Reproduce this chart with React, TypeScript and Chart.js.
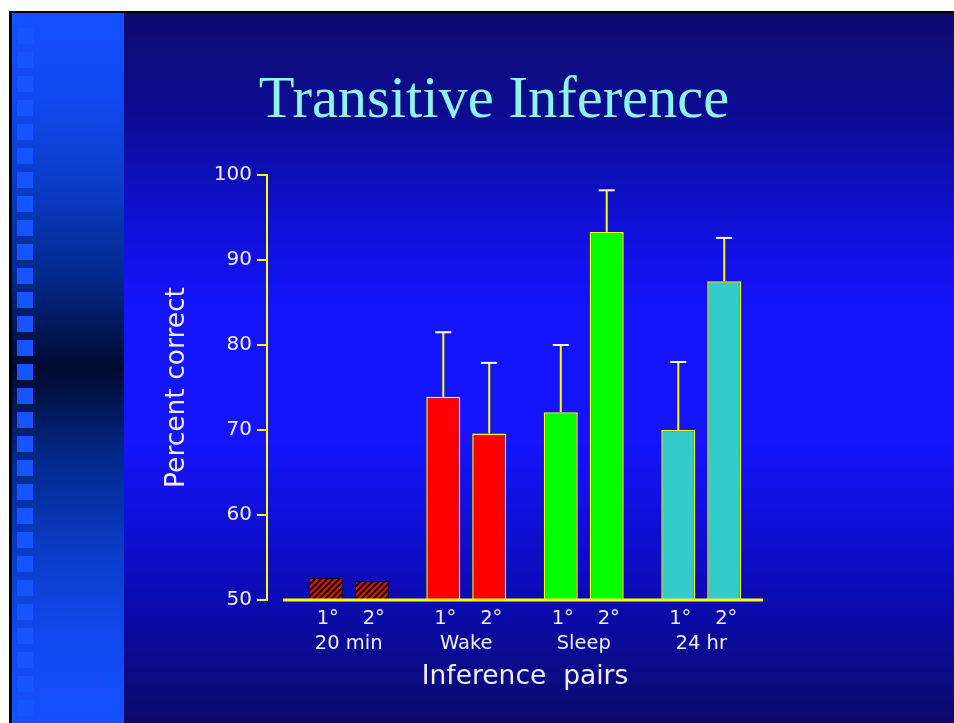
import { useEffect, useRef } from 'react';
import { Chart, registerables } from 'chart.js';

Chart.register(...registerables);

// ---- data ----
const groups = ['20 min', 'Wake', 'Sleep', '24 hr'];
const pairLabels = ['1°', '2°'];
const firstOrder = [52.6, 73.9, 72.1, 70.0];
const secondOrder = [52.2, 69.6, 93.3, 87.5];
const firstErr = [0, 7.6, 7.9, 8.0];
const secondErr = [0, 8.3, 4.9, 5.1];
const yMin = 50;
const yMax = 100;
const yStep = 10;
const titleText = 'Transitive Inference';
const yTitleText = 'Percent correct';
const xTitleText = 'Inference  pairs';

// ---- styles ----
const groupFills = ['hatch', '#ff0000', '#00ff00', '#33cccc'];
const textColor = '#eeeefa';
const axisYellow = '#ffff00';
const FONT = "'DejaVu Sans', Verdana, sans-serif";

function makeHatch(): CanvasPattern | string {
  const c = document.createElement('canvas');
  c.width = 6;
  c.height = 6;
  const g = c.getContext('2d');
  if (!g) return '#ff0000';
  g.fillStyle = '#ff0000';
  g.fillRect(0, 0, 6, 6);
  g.strokeStyle = '#000000';
  g.lineWidth = 2;
  g.beginPath();
  g.moveTo(-1, 7);
  g.lineTo(7, -1);
  g.moveTo(-4, 4);
  g.lineTo(4, -4);
  g.moveTo(2, 10);
  g.lineTo(10, 2);
  g.stroke();
  return g.createPattern(c, 'repeat') || '#ff0000';
}

const slidePlugin = {
  id: 'slideDecor',
  afterDatasetsDraw(chart: any) {
    const { ctx, chartArea, scales } = chart;
    const y = scales.y;
    ctx.save();
    // error bars + pair labels
    chart.data.datasets.forEach((ds: any, di: number) => {
      const meta = chart.getDatasetMeta(di);
      meta.data.forEach((bar: any, i: number) => {
        const e = ds.errors[i];
        const v = ds.data[i];
        if (e) {
          const yTop = y.getPixelForValue(v + e);
          const yBar = y.getPixelForValue(v);
          ctx.lineWidth = 2;
          ctx.strokeStyle = axisYellow;
          ctx.beginPath();
          ctx.moveTo(bar.x, yBar);
          ctx.lineTo(bar.x, yTop);
          ctx.stroke();
          ctx.strokeStyle = '#ffffff';
          ctx.beginPath();
          ctx.moveTo(bar.x - 8, yTop);
          ctx.lineTo(bar.x + 8, yTop);
          ctx.stroke();
        }
        ctx.fillStyle = textColor;
        ctx.font = `19.5px ${FONT}`;
        ctx.textAlign = 'center';
        ctx.textBaseline = 'middle';
        ctx.fillText(ds.label, bar.x + 2, chartArea.bottom + 19);
      });
    });
    // y axis line and ticks
    const ax = chartArea.left - 23;
    ctx.strokeStyle = axisYellow;
    ctx.lineWidth = 2;
    ctx.beginPath();
    ctx.moveTo(ax, y.getPixelForValue(yMax) - 1);
    ctx.lineTo(ax, y.getPixelForValue(yMin) + 1);
    ctx.stroke();
    for (let v = yMin; v <= yMax; v += yStep) {
      const py = y.getPixelForValue(v);
      ctx.beginPath();
      ctx.moveTo(ax - 10, py);
      ctx.lineTo(ax, py);
      ctx.stroke();
    }
    // x axis line
    ctx.lineWidth = 3;
    ctx.beginPath();
    ctx.moveTo(chartArea.left - 7, chartArea.bottom);
    ctx.lineTo(chartArea.right + 3, chartArea.bottom);
    ctx.stroke();
    ctx.restore();
  },
};

export default function App() {
  const ref = useRef<HTMLCanvasElement>(null);

  useEffect(() => {
    const canvas = ref.current;
    if (!canvas) return;
    const hatch = makeHatch();
    const fills = groupFills.map((f) => (f === 'hatch' ? hatch : f));
    const borders = groupFills.map((f) => (f === 'hatch' ? '#000000' : axisYellow));
    const borderWidths = groupFills.map((f) => (f === 'hatch' ? 1 : 1.5));
    const chart = new Chart(canvas, {
      type: 'bar',
      data: {
        labels: groups,
        datasets: [
          {
            label: pairLabels[0],
            data: firstOrder,
            errors: firstErr,
            backgroundColor: fills,
            borderColor: borders,
            borderWidth: borderWidths,
            categoryPercentage: 0.782,
            barPercentage: 0.74,
          } as any,
          {
            label: pairLabels[1],
            data: secondOrder,
            errors: secondErr,
            backgroundColor: fills,
            borderColor: borders,
            borderWidth: borderWidths,
            categoryPercentage: 0.782,
            barPercentage: 0.74,
          } as any,
        ],
      },
      options: {
        animation: false,
        responsive: true,
        maintainAspectRatio: false,
        layout: { padding: { top: 175, left: 0, right: 194, bottom: 0 } },
        plugins: {
          legend: { display: false },
          tooltip: { enabled: false },
          title: { display: false },
        },
        scales: {
          x: {
            grid: { display: false, drawTicks: false },
            border: { display: false },
            ticks: {
              color: textColor,
              font: { family: FONT, size: 19.5 },
              padding: 32,
              maxRotation: 0,
              autoSkip: false,
            },
            title: {
              display: true,
              text: xTitleText,
              color: textColor,
              font: { family: FONT, size: 26.5 },
              padding: { top: 0, bottom: 30 },
            },
            afterFit: (s: any) => {
              s.height = 123;
            },
          },
          y: {
            min: yMin,
            max: yMax,
            grid: { display: false, drawTicks: false },
            border: { display: false },
            ticks: {
              stepSize: yStep,
              color: textColor,
              font: { family: FONT, size: 20 },
              padding: 38,
            },
            title: {
              display: true,
              text: yTitleText,
              color: textColor,
              font: { family: FONT, size: 26.5 },
              padding: { top: 161, bottom: 0 },
            },
            afterFit: (s: any) => {
              s.width = 290;
            },
          },
        },
      } as any,
      plugins: [slidePlugin],
    });
    return () => chart.destroy();
  }, []);

  const squares = [];
  for (let k = 0; k < 29; k++) {
    squares.push(
      <div
        key={k}
        style={{
          position: 'absolute',
          left: 17,
          top: 28 + 24 * k,
          width: 16,
          height: 16,
          background: '#1654ff',
        }}
      />
    );
  }

  return (
    <div
      style={{
        position: 'absolute',
        left: 0,
        top: 0,
        width: 954,
        height: 723,
        background: '#ffffff',
        overflow: 'hidden',
      }}
    >
      <div style={{ position: 'absolute', left: 9, top: 11, width: 945, height: 712, background: '#000' }} />
      <div
        style={{
          position: 'absolute',
          left: 12,
          top: 13,
          width: 112,
          height: 710,
          background:
            'linear-gradient(to bottom, #1450ff 0%, #1149f0 12%, #0a3cc8 24%, #02298c 37%, #000a30 50%, #02298c 63%, #0a3cc8 76%, #1149f0 88%, #1450ff 100%)',
        }}
      />
      {squares}
      <div
        style={{
          position: 'absolute',
          left: 124,
          top: 13,
          width: 830,
          height: 710,
          background:
            'linear-gradient(to bottom, #0c0b6e 0%, #0c0c95 15%, #1010d8 30%, #1414ff 42%, #1414ff 60%, #0b0bb4 82%, #0a0a6a 100%)',
        }}
      />
      <div
        style={{
          position: 'absolute',
          left: 0,
          top: 69,
          width: 988,
          textAlign: 'center',
          whiteSpace: 'nowrap',
          fontFamily: "'Liberation Serif', 'Times New Roman', serif",
          fontSize: 58.5,
          lineHeight: 1,
          color: '#8ff5ec',
        }}
      >
        {titleText}
      </div>
      <div style={{ position: 'absolute', left: 0, top: 0, width: 954, height: 723 }}>
        <canvas ref={ref} />
      </div>
    </div>
  );
}
